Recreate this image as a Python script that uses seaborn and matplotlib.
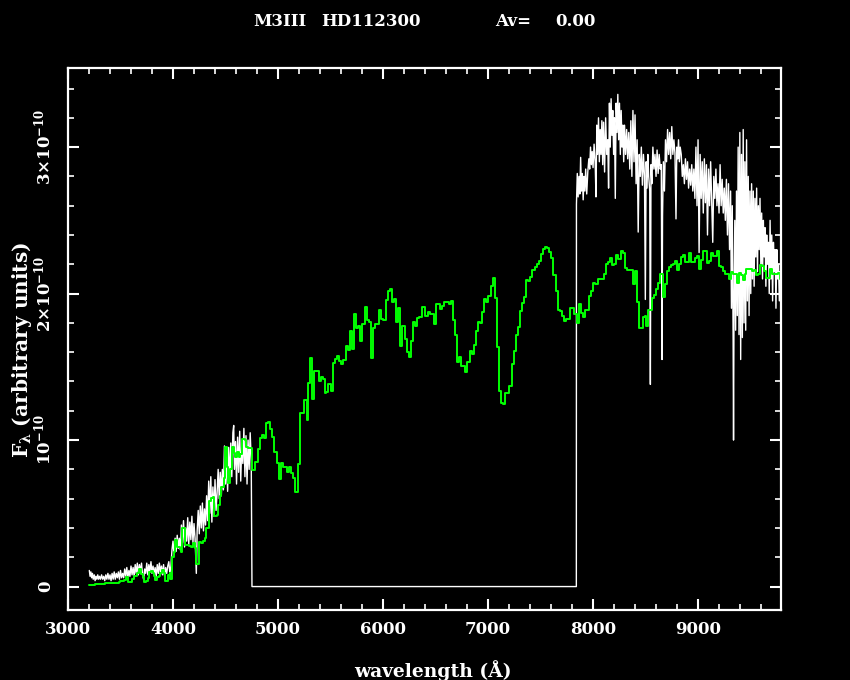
import numpy as np
import matplotlib
matplotlib.use("Agg")
import matplotlib.pyplot as plt
from matplotlib.ticker import MultipleLocator
import seaborn as sns

# flux in units of 1e-10
green_wave = [3203, 3260, 3355, 3403, 3419, 3482, 3498, 3530, 3555, 3571, 3593, 3609, 3625, 3657, 3673,
              3698, 3714, 3720, 3746, 3762, 3774, 3793, 3809, 3822, 3831, 3847, 3866, 3879, 3895, 3911,
              3920, 3936, 3949, 3968, 3974, 3990, 4006, 4016, 4038, 4063, 4076, 4085, 4108, 4117, 4149,
              4174, 4190, 4206, 4222, 4244, 4266, 4285, 4301, 4317, 4339, 4365, 4381, 4393, 4419, 4428,
              4444, 4460, 4482, 4498, 4514, 4524, 4539, 4562, 4578, 4593, 4609, 4625, 4641, 4657, 4682,
              4698, 4714, 4736, 4752, 4784, 4800, 4810, 4826, 4851, 4870, 4886, 4902, 4921, 4940, 4959,
              4991, 5010, 5029, 5048, 5086, 5105, 5124, 5143, 5162, 5188, 5207, 5222, 5244, 5273, 5286,
              5301, 5324, 5340, 5393, 5406, 5428, 5444, 5460, 5476, 5505, 5520, 5540, 5559, 5578, 5603,
              5622, 5644, 5663, 5682, 5701, 5721, 5740, 5759, 5778, 5803, 5825, 5844, 5863, 5882, 5901,
              5921, 5940, 5959, 5978, 5997, 6025, 6044, 6063, 6082, 6102, 6121, 6140, 6159, 6178, 6206,
              6225, 6244, 6263, 6282, 6302, 6321, 6343, 6375, 6403, 6425, 6444, 6482, 6502, 6540, 6559,
              6578, 6597, 6625, 6644, 6663, 6683, 6702, 6721, 6740, 6759, 6778, 6797, 6825, 6844, 6864,
              6883, 6902, 6921, 6940, 6959, 6978, 6997, 7025, 7044, 7064, 7083, 7102, 7121, 7140, 7159,
              7197, 7225, 7245, 7264, 7283, 7302, 7321, 7340, 7359, 7378, 7397, 7416, 7445, 7464, 7483,
              7502, 7521, 7540, 7559, 7578, 7597, 7616, 7645, 7664, 7683, 7702, 7721, 7740, 7759, 7778,
              7816, 7848, 7864, 7883, 7902, 7921, 7959, 7978, 7997, 8016, 8045, 8102, 8121, 8140, 8159,
              8178, 8197, 8216, 8235, 8264, 8283, 8302, 8321, 8378, 8397, 8416, 8435, 8473, 8492, 8502,
              8521, 8559, 8578, 8597, 8616, 8635, 8664, 8683, 8702, 8721, 8740, 8759, 8778, 8797, 8816,
              8835, 8854, 8873, 8911, 8930, 8968, 8987, 9007, 9026, 9045, 9083, 9102, 9121, 9140, 9178,
              9197, 9216, 9235, 9254, 9292, 9311, 9330, 9369, 9388, 9407, 9426, 9445, 9454, 9511, 9530,
              9549, 9569, 9588, 9607, 9626, 9645, 9683, 9702, 9740, 9759, 9778, 9795]
green_flux = [0.012, 0.019, 0.025, 0.021, 0.025, 0.030, 0.041, 0.046, 0.062, 0.034, 0.028, 0.050, 0.075, 0.091, 0.118,
              0.084, 0.068, 0.032, 0.039, 0.057, 0.098, 0.109, 0.091, 0.075, 0.046, 0.068, 0.075, 0.091, 0.114, 0.091,
              0.041, 0.039, 0.080, 0.091, 0.050, 0.205, 0.239, 0.318, 0.273, 0.266, 0.239, 0.398, 0.402, 0.284, 0.280,
              0.273, 0.300, 0.266, 0.153, 0.307, 0.300, 0.314, 0.330, 0.398, 0.587, 0.602, 0.609, 0.482, 0.489, 0.557,
              0.618, 0.677, 0.739, 0.950, 0.818, 0.709, 0.800, 0.950, 0.914, 0.886, 0.920, 0.886, 0.905, 1.005, 1.000,
              0.955, 0.943, 0.943, 0.796, 0.852, 0.852, 0.936, 1.011, 1.034, 1.011, 1.114, 1.120, 1.075, 1.023, 0.920,
              0.841, 0.732, 0.841, 0.818, 0.780, 0.814, 0.773, 0.739, 0.643, 0.834, 1.182, 1.182, 1.271, 1.137, 1.393,
              1.557, 1.277, 1.473, 1.400, 1.432, 1.420, 1.318, 1.325, 1.380, 1.332, 1.523, 1.555, 1.577, 1.539, 1.518,
              1.545, 1.645, 1.614, 1.748, 1.625, 1.864, 1.768, 1.782, 1.675, 1.789, 1.911, 1.818, 1.804, 1.557, 1.768,
              1.793, 1.789, 1.886, 1.829, 1.823, 1.959, 2.020, 2.034, 1.941, 1.963, 1.809, 1.904, 1.639, 1.779, 1.693,
              1.598, 1.570, 1.679, 1.809, 1.779, 1.836, 1.843, 1.911, 1.848, 1.877, 1.863, 1.795, 1.932, 1.898, 1.918,
              1.945, 1.941, 1.927, 1.952, 1.823, 1.720, 1.536, 1.564, 1.509, 1.505, 1.468, 1.536, 1.611, 1.591, 1.652,
              1.748, 1.809, 1.802, 1.877, 1.966, 1.945, 1.986, 2.054, 2.109, 1.973, 1.632, 1.332, 1.250, 1.243, 1.318,
              1.366, 1.516, 1.611, 1.714, 1.775, 1.884, 1.938, 1.979, 2.095, 2.088, 2.116, 2.163, 2.184, 2.204, 2.225,
              2.273, 2.307, 2.320, 2.313, 2.286, 2.245, 2.129, 2.020, 1.891, 1.879, 1.850, 1.816, 1.825, 1.829, 1.904,
              1.863, 1.802, 1.932, 1.870, 1.841, 1.886, 1.984, 2.020, 2.075, 2.068, 2.102, 2.136, 2.204, 2.216, 2.245,
              2.193, 2.200, 2.266, 2.238, 2.293, 2.277, 2.172, 2.159, 2.068, 2.154, 1.941, 1.768, 1.841, 1.850, 1.782,
              1.891, 1.973, 1.993, 2.034, 2.075, 2.136, 1.979, 2.068, 2.154, 2.182, 2.195, 2.204, 2.222, 2.163, 2.204,
              2.250, 2.266, 2.218, 2.277, 2.218, 2.245, 2.254, 2.170, 2.227, 2.291, 2.209, 2.222, 2.279, 2.254, 2.291,
              2.191, 2.182, 2.154, 2.136, 2.102, 2.150, 2.136, 2.075, 2.141, 2.129, 2.095, 2.136, 2.166, 2.154, 2.159,
              2.129, 2.136, 2.197, 2.186, 2.152, 2.106, 2.168, 2.136, 2.136, 2.143, 2.097, 2.097]

white_wave = [3203, 3210, 3218, 3225, 3233, 3240, 3250, 3258, 3266, 3275, 3283, 3292, 3300, 3310, 3320,
              3330, 3340, 3350, 3360, 3370, 3380, 3390, 3400, 3410, 3420, 3430, 3440, 3450, 3460, 3470,
              3480, 3490, 3500, 3510, 3520, 3530, 3540, 3550, 3560, 3570, 3580, 3590, 3600, 3610, 3620,
              3630, 3640, 3650, 3660, 3670, 3680, 3690, 3700, 3710, 3720, 3730, 3740, 3750, 3760, 3770,
              3780, 3790, 3800, 3810, 3820, 3830, 3840, 3850, 3860, 3870, 3880, 3890, 3900, 3910, 3920,
              3930, 3940, 3950, 3960, 3970, 3980, 3990, 4000, 4010, 4020, 4030, 4040, 4050, 4060, 4070,
              4080, 4090, 4100, 4110, 4120, 4130, 4140, 4150, 4160, 4170, 4180, 4190, 4200, 4210, 4222,
              4230, 4240, 4250, 4260, 4270, 4280, 4290, 4300, 4310, 4320, 4330, 4340, 4350, 4360, 4370,
              4380, 4390, 4400, 4410, 4420, 4430, 4440, 4450, 4460, 4470, 4480, 4490, 4500, 4510, 4520,
              4530, 4540, 4550, 4560, 4570, 4578, 4585, 4595, 4605, 4615, 4625, 4635, 4645, 4655, 4665,
              4675, 4685, 4695, 4705, 4715, 4725, 4735, 4745, 4752, 7841,
              7842, 7850, 7858, 7866, 7874, 7882, 7890, 7898, 7906, 7914, 7922, 7930, 7940, 7950, 7960,
              7968, 7976, 7984, 7992, 8000, 8010, 8020, 8028, 8036, 8044, 8052, 8060, 8068, 8076, 8084,
              8092, 8100, 8110, 8120, 8130, 8140, 8148, 8156, 8164, 8172, 8180, 8188, 8196, 8204, 8212,
              8220, 8228, 8236, 8244, 8252, 8260, 8268, 8276, 8284, 8292, 8300, 8310, 8320, 8330, 8340,
              8350, 8360, 8370, 8380, 8390, 8400, 8410, 8420, 8430, 8440, 8450, 8460, 8470, 8480, 8490,
              8498, 8506, 8514, 8522, 8530, 8540, 8546, 8552, 8560, 8570, 8580, 8590, 8600, 8610, 8620,
              8630, 8640, 8650, 8657, 8662, 8670, 8680, 8690, 8700, 8710, 8720, 8730, 8740, 8750, 8760,
              8770, 8780, 8790, 8798, 8806, 8814, 8822, 8830, 8840, 8850, 8860, 8870, 8880, 8890, 8900,
              8910, 8920, 8930, 8940, 8950, 8960, 8970, 8980, 8990, 9000, 9010, 9020, 9030, 9040, 9050,
              9060, 9070, 9080, 9090, 9100, 9110, 9120, 9130, 9140, 9150, 9160, 9170, 9180, 9190, 9200,
              9210, 9220, 9230, 9240, 9250, 9260, 9270, 9280, 9290, 9300, 9310, 9318, 9326, 9334, 9338,
              9342, 9350, 9358, 9366, 9374, 9382, 9390, 9398, 9406, 9414, 9422, 9430, 9438, 9446, 9454,
              9462, 9470, 9478, 9486, 9494, 9502, 9510, 9518, 9526, 9534, 9542, 9550, 9558, 9566, 9574,
              9582, 9590, 9598, 9606, 9614, 9622, 9630, 9638, 9646, 9654, 9662, 9670, 9678, 9686, 9694,
              9702, 9710, 9718, 9726, 9734, 9742, 9750, 9758, 9766, 9774, 9782, 9790]
white_flux = [0.11, 0.07, 0.10, 0.06, 0.09, 0.05, 0.08, 0.04, 0.07, 0.05, 0.08, 0.05, 0.07, 0.05, 0.08,
              0.05, 0.07, 0.04, 0.08, 0.05, 0.09, 0.05, 0.08, 0.04, 0.09, 0.05, 0.10, 0.05, 0.09, 0.06,
              0.10, 0.05, 0.11, 0.06, 0.09, 0.06, 0.12, 0.07, 0.13, 0.06, 0.11, 0.07, 0.14, 0.08, 0.13,
              0.07, 0.15, 0.09, 0.16, 0.08, 0.15, 0.10, 0.16, 0.08, 0.05, 0.12, 0.09, 0.16, 0.08, 0.15,
              0.10, 0.17, 0.09, 0.14, 0.08, 0.13, 0.07, 0.15, 0.09, 0.16, 0.10, 0.14, 0.08, 0.15, 0.07,
              0.13, 0.09, 0.14, 0.17, 0.09, 0.14, 0.25, 0.31, 0.22, 0.33, 0.24, 0.35, 0.26, 0.33, 0.25,
              0.42, 0.30, 0.45, 0.27, 0.40, 0.31, 0.47, 0.29, 0.44, 0.32, 0.48, 0.30, 0.43, 0.33, 0.09,
              0.38, 0.52, 0.36, 0.55, 0.40, 0.57, 0.38, 0.53, 0.42, 0.62, 0.45, 0.72, 0.50, 0.75, 0.44,
              0.68, 0.48, 0.73, 0.52, 0.64, 0.80, 0.60, 0.78, 0.62, 0.80, 0.66, 0.96, 0.70, 0.88, 0.65,
              0.95, 0.72, 0.98, 0.75, 1.05, 1.10, 0.80, 0.99, 0.70, 1.02, 0.78, 1.06, 0.72, 0.98, 0.84,
              1.08, 0.75, 1.03, 0.70, 1.00, 0.80, 1.05, 0.86, 0.0, 0.0,
              2.61, 2.82, 2.66, 2.80, 2.68, 2.93, 2.70, 2.82, 2.64, 2.80, 2.70, 2.85, 2.68, 2.83, 2.92,
              2.85, 3.00, 2.88, 2.97, 2.86, 3.02, 2.90, 2.66, 3.15, 2.95, 3.20, 2.90, 3.12, 2.95, 3.18,
              2.88, 3.17, 2.83, 3.20, 2.95, 3.05, 2.72, 3.30, 3.00, 3.33, 3.08, 3.25, 2.95, 3.20, 2.65,
              3.30, 3.10, 3.36, 3.05, 3.30, 2.95, 3.25, 3.00, 3.15, 2.90, 3.15, 2.95, 3.12, 2.92, 3.10,
              2.85, 3.18, 2.80, 3.25, 2.90, 3.22, 2.75, 3.05, 2.42, 2.95, 2.80, 3.00, 2.74, 2.95, 2.80,
              1.96, 2.90, 2.72, 2.95, 2.80, 2.70, 1.38, 2.88, 2.75, 3.00, 2.85, 2.95, 2.80, 2.98, 2.82,
              2.95, 2.85, 2.88, 1.55, 2.53, 2.90, 2.70, 3.05, 2.90, 3.12, 2.95, 3.10, 2.92, 3.14, 2.95,
              3.05, 2.96, 2.51, 3.00, 2.92, 3.05, 2.90, 3.00, 2.95, 2.80, 2.88, 2.75, 2.92, 2.78, 2.90,
              2.72, 2.85, 2.74, 2.88, 2.70, 2.85, 2.65, 3.00, 2.60, 3.05, 2.28, 2.95, 2.65, 2.90, 2.55,
              2.92, 2.62, 2.88, 2.40, 2.85, 2.60, 2.90, 2.62, 2.35, 2.80, 2.65, 2.85, 2.60, 2.75, 2.55,
              2.88, 2.60, 2.78, 2.55, 2.72, 2.50, 2.78, 2.40, 2.75, 2.30, 2.70, 1.90, 2.60, 1.70, 1.00,
              1.80, 2.50, 1.75, 2.70, 1.85, 3.00, 1.72, 3.10, 1.55, 2.95, 1.70, 3.12, 1.80, 2.90, 1.75,
              3.05, 1.95, 2.80, 1.85, 2.70, 2.00, 2.75, 2.10, 2.70, 2.05, 2.65, 2.25, 2.72, 2.15, 2.60,
              2.30, 2.65, 2.20, 2.55, 2.10, 2.50, 2.25, 2.45, 2.05, 2.40, 2.20, 2.35, 2.00, 2.50, 2.10,
              2.40, 1.95, 2.35, 2.15, 2.30, 1.90, 2.30, 2.10, 2.20, 1.95, 2.15, 2.05]

ytick_vals = [0, 1, 2, 3]
ytick_labels = ["0", r"$10^{-10}$", r"$2{\times}10^{-10}$", r"$3{\times}10^{-10}$"]

sns.set_theme(style="ticks", rc={"axes.facecolor": "black", "figure.facecolor": "black",
                                 "axes.edgecolor": "white", "text.color": "white",
                                 "xtick.color": "white", "ytick.color": "white"})
plt.rcParams['font.family'] = ['DejaVu Serif']
plt.rcParams['font.weight'] = 'bold'
plt.rcParams['mathtext.fontset'] = 'dejavuserif'
plt.rcParams['mathtext.default'] = 'bf'

fig = plt.figure(figsize=(8.5, 6.8), dpi=100)
ax = fig.add_axes([68 / 850, 1 - 610 / 680, (781 - 68) / 850, (610 - 68) / 680])

sns.lineplot(x=white_wave, y=white_flux, sort=False, estimator=None, color="white", lw=1.0, ax=ax)
sns.lineplot(x=green_wave, y=green_flux, sort=False, estimator=None, color="#00ff00", lw=1.4,
             drawstyle="steps-post", ax=ax)

ax.set_xlim(3000, 9790)
ax.set_ylim(-0.16, 3.54)
ax.xaxis.set_major_locator(MultipleLocator(1000))
ax.xaxis.set_minor_locator(MultipleLocator(200))
ax.yaxis.set_minor_locator(MultipleLocator(0.2))
ax.set_yticks(ytick_vals)
ax.set_yticklabels(ytick_labels, rotation=90, va="center")
for s in ax.spines.values():
    s.set_linewidth(1.6)
    s.set_color("white")
ax.tick_params(which="both", direction="in", top=True, right=True, colors="white", labelsize=12)
ax.tick_params(which="major", length=8, width=1.5)
ax.tick_params(which="minor", length=4, width=1.2)
ax.tick_params(axis="x", pad=8)
ax.tick_params(axis="y", pad=10)
ax.set_xlabel("")
ax.set_ylabel("")

fig.text(22 / 850, 1 - 350 / 680, r"F$_\lambda$ (arbitrary units)", rotation=90,
         ha="center", va="center", fontsize=14.5, color="white")
fig.text(433 / 850, 1 - 671 / 680, "wavelength (Å)", ha="center", va="center", fontsize=13.5, color="white")

for txt, xpix in [("M3III", 253), ("HD112300", 321), ("Av=", 495), ("0.00", 555)]:
    fig.text(xpix / 850, 1 - 21 / 680, txt, ha="left", va="center", fontsize=12, color="white")

fig.savefig("out.png", dpi=100, facecolor="black")
